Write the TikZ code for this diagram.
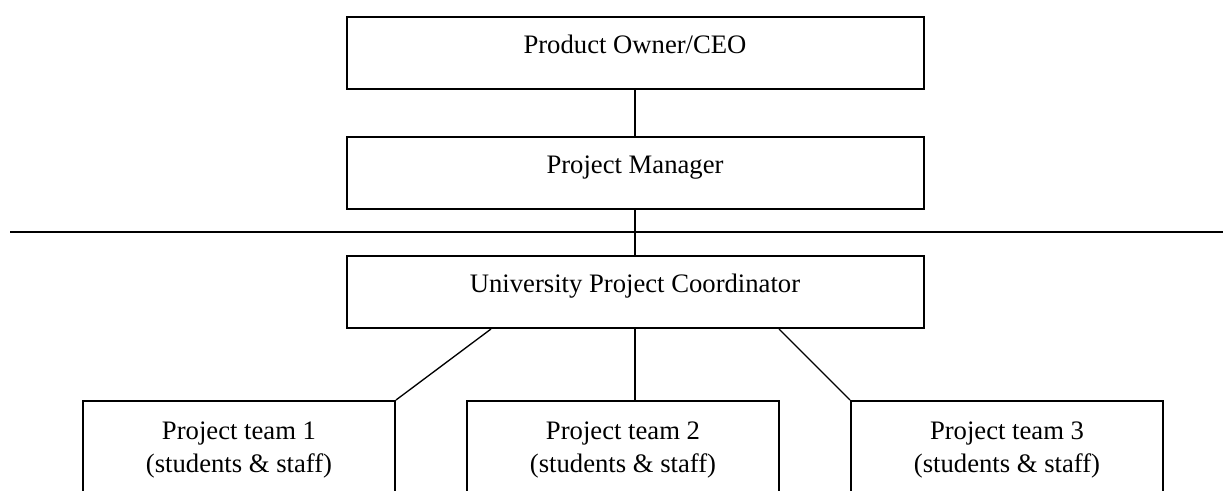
\documentclass[tikz,border=0pt]{standalone}
\usepackage{fontspec}
\setmainfont{Liberation Serif}

\tikzset{
  orgbox/.style={draw, line width=1.5pt, minimum width=432.75pt, inner ysep=4.5pt,
    text height=23.25pt, text depth=21.75pt, font=\fontsize{20}{24}\selectfont},
  teambox/.style={draw, line width=1.5pt, minimum width=234pt, align=center, inner ysep=4.5pt,
    text height=48.75pt, text depth=120pt, font=\fontsize{20}{24.75}\selectfont},
  orgline/.style={line width=1pt}
}

\begin{document}
\begin{tikzpicture}[x=0.75pt, y=-0.75pt]
  \useasboundingbox (0,0) rectangle (1223,491);
  \node[orgbox, anchor=north] (ceo) at (635,16) {Product Owner/CEO};
  \node[orgbox, anchor=north] (pm) at (635,136) {Project Manager};
  \node[orgbox, anchor=north] (univ) at (635,255) {University Project Coordinator};
  \node[teambox, anchor=north] (team1) at (239,400) {Project team 1\\(students \& staff)};
  \node[teambox, anchor=north] (team2) at (623,400) {Project team 2\\(students \& staff)};
  \node[teambox, anchor=north] (team3) at (1007,400) {Project team 3\\(students \& staff)};
  \coordinate (lineleft) at (10,232);
  \coordinate (lineright) at (1223,232);
  \draw[line width=1.4pt] (lineleft) -- (lineright);
  \draw[orgline] (ceo.south) -- (pm.north);
  \draw[orgline] (pm.south) -- (univ.north);
  \draw[orgline] (univ.south) -- (univ.south |- team2.north);
  \draw[orgline] ([xshift=-108pt]univ.south) -- (team1.north east);
  \draw[orgline] ([xshift=108pt]univ.south) -- (team3.north west);
\end{tikzpicture}
\end{document}
